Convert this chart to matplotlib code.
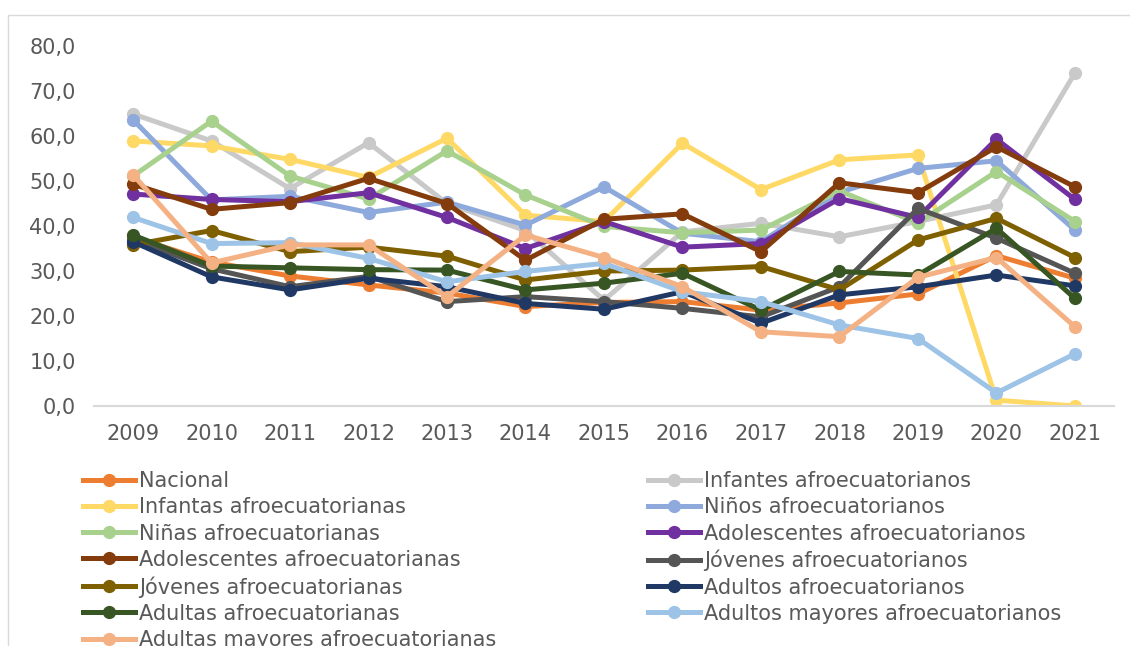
import matplotlib.pyplot as plt
from matplotlib.lines import Line2D
from matplotlib.patches import Rectangle

years = [2009, 2010, 2011, 2012, 2013, 2014, 2015, 2016, 2017, 2018, 2019, 2020, 2021]

# series, in the order the source draws them
nacional = [37.5, 32.0, 28.9, 26.9, 25.1, 22.1, 23.0, 23.2, 21.3, 22.9, 24.9, 33.4, 28.4]
infantes_m = [64.9, 58.9, 48.3, 58.5, 45.0, 39.0, 23.5, 38.7, 40.6, 37.6, 41.0, 44.7, 74.0]
infantas_f = [58.9, 57.8, 54.8, 50.8, 59.5, 42.4, 41.0, 58.4, 48.1, 54.7, 55.8, 1.3, 0.0]
ninos_m = [63.6, 45.8, 46.6, 43.0, 45.3, 40.2, 48.7, 38.4, 36.5, 47.5, 52.8, 54.5, 39.1]
ninas_f = [51.1, 63.3, 51.1, 46.0, 56.7, 46.9, 39.9, 38.5, 39.1, 47.8, 40.7, 52.1, 41.0]
adolesc_m = [47.1, 45.9, 45.4, 47.4, 41.9, 35.0, 41.0, 35.3, 36.1, 46.1, 41.9, 59.3, 45.9]
adolesc_f = [49.3, 43.7, 45.2, 50.6, 45.0, 32.4, 41.5, 42.7, 34.3, 49.6, 47.4, 57.6, 48.7]
jovenes_m = [37.0, 30.5, 26.5, 28.8, 23.2, 24.3, 23.2, 21.7, 19.8, 26.5, 43.9, 37.3, 29.5]
jovenes_f = [35.8, 39.0, 34.3, 35.3, 33.3, 28.0, 30.0, 30.2, 31.0, 25.8, 36.9, 41.7, 33.0]
adultos_m = [36.5, 28.7, 25.8, 28.4, 26.5, 22.8, 21.5, 25.4, 18.4, 24.7, 26.5, 29.1, 26.7]
adultas_f = [38.0, 31.1, 30.7, 30.3, 30.2, 25.8, 27.3, 29.5, 21.3, 29.9, 29.1, 39.5, 23.9]
mayores_m = [41.9, 36.1, 36.3, 32.8, 27.6, 29.9, 31.7, 25.4, 23.2, 18.0, 15.0, 2.9, 11.6]
mayores_f = [51.4, 31.8, 35.8, 35.8, 24.3, 38.0, 33.0, 26.5, 16.5, 15.4, 28.6, 33.0, 17.6]

labels = ["Nacional", "Infantes afroecuatorianos", "Infantas afroecuatorianas",
          "Niños afroecuatorianos", "Niñas afroecuatorianas",
          "Adolescentes afroecuatorianos", "Adolescentes afroecuatorianas",
          "Jóvenes afroecuatorianos", "Jóvenes afroecuatorianas",
          "Adultos afroecuatorianos", "Adultas afroecuatorianas",
          "Adultos mayores afroecuatorianos", "Adultas mayores afroecuatorianas"]
series = [nacional, infantes_m, infantas_f, ninos_m, ninas_f, adolesc_m, adolesc_f,
          jovenes_m, jovenes_f, adultos_m, adultas_f, mayores_m, mayores_f]
colors = ["#ED7D31", "#C9C9C9", "#FFD966", "#8EA9DB", "#A9D18E", "#7030A0", "#843C0C",
          "#555555", "#7F6000", "#1F3864", "#375623", "#9DC3E6", "#F4B183"]

txt = "#595959"
plt.rcParams['font.family'] = ['DejaVu Sans']

fig = plt.figure(figsize=(11.3, 6.46), dpi=100)
ax = fig.add_axes([0.083, 0.3715, 0.903, 0.5573])

x = list(range(len(years)))
handles = []
for s, c, lab in zip(series, colors, labels):
    h, = ax.plot(x, s, color=c, lw=3.6, marker='o', ms=8.5, label=lab,
                 solid_joinstyle='round')
    handles.append(h)

ax.set_xlim(-0.5, len(years) - 0.5)
ax.set_ylim(0, 80)
ax.set_yticks(range(0, 81, 10))
ax.set_yticklabels([f"{v:.1f}".replace('.', ',') for v in range(0, 81, 10)])
ax.set_xticks(x)
ax.set_xticklabels([str(y) for y in years])
ax.tick_params(length=0, labelsize=15, colors=txt)
ax.tick_params(axis='y', pad=13)
ax.tick_params(axis='x', pad=13)
for sp in ['top', 'right', 'left']:
    ax.spines[sp].set_visible(False)
ax.spines['bottom'].set_color('#D9D9D9')
ax.spines['bottom'].set_linewidth(1.5)

# legend in two columns, row-major like the source
left = [Line2D([], [], color=h.get_color(), lw=3.6, marker='o', ms=8.5) for h in handles[0::2]]
right = [Line2D([], [], color=h.get_color(), lw=3.6, marker='o', ms=8.5) for h in handles[1::2]]
kw = dict(frameon=False, fontsize=15, labelcolor=txt, handlelength=2.5,
          handletextpad=0.2, labelspacing=0.3, borderpad=0, borderaxespad=0,
          loc='upper left')
leg1 = fig.legend(left, labels[0::2], bbox_to_anchor=(83 / 1130, 1 - 471 / 646), **kw)
leg2 = fig.legend(right, labels[1::2], bbox_to_anchor=(648 / 1130, 1 - 471 / 646), **kw)

# outer frame of the chart area (cropped on the right and bottom)
fig.patches.append(Rectangle((8 / 1130, -0.1), 1.2, 1 - 15 / 646 + 0.1,
                             transform=fig.transFigure, fill=False,
                             edgecolor='#D9D9D9', lw=1))

fig.savefig('out.png', dpi=100)
